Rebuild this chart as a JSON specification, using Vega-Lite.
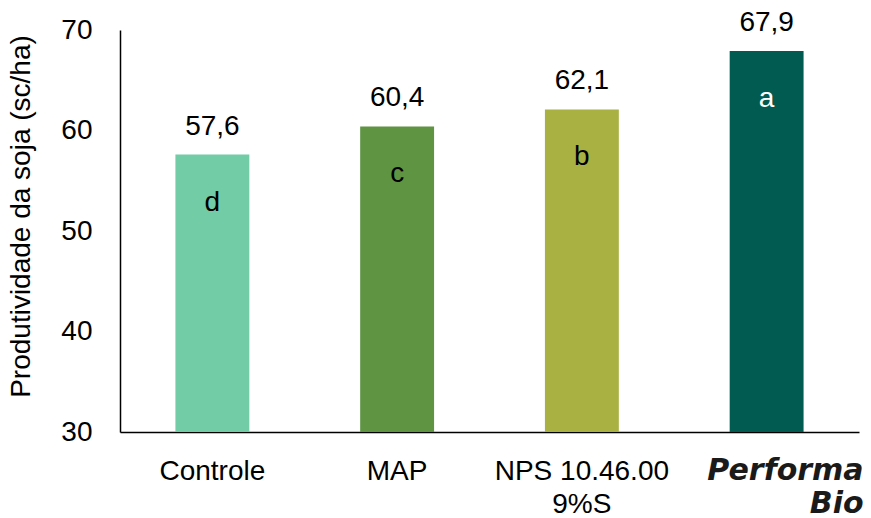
{
  "$schema": "https://vega.github.io/schema/vega-lite/v6.json",
  "width": 739,
  "height": 402,
  "autosize": "none",
  "padding": {"left": 120, "top": 30, "right": 12, "bottom": 86},
  "background": "white",
  "config": {
    "view": {"stroke": null},
    "font": "Liberation Sans",
    "locale": {"number": {"decimal": ",", "thousands": ".", "grouping": [3], "currency": ["", ""]}}
  },
  "data": {
    "values": [
      {"trat": "Controle", "prod": 57.6, "letra": "d"},
      {"trat": "MAP", "prod": 60.4, "letra": "c"},
      {"trat": "NPS 10.46.00 9%S", "prod": 62.1, "letra": "b"},
      {"trat": "PerformaBio", "prod": 67.9, "letra": "a"}
    ]
  },
  "encoding": {
    "x": {
      "field": "trat",
      "type": "nominal",
      "sort": null,
      "scale": {"paddingInner": 0.6, "paddingOuter": 0.3},
      "axis": {
        "title": null,
        "labelAngle": 0,
        "ticks": false,
        "domainColor": "black",
        "domainWidth": 1.5,
        "labelColor": {"condition": {"test": "datum.value == 'PerformaBio'", "value": "#1a1a1a"}, "value": "black"},
        "labelPadding": 47,
        "labelBaseline": "alphabetic",
        "labelLineHeight": 33,
        "labelExpr": "datum.value == 'NPS 10.46.00 9%S' ? ['NPS 10.46.00', '9%S'] : datum.value == 'PerformaBio' ? ['Performa', 'Bio'] : datum.value",
        "labelFontSize": {"condition": {"test": "datum.value == 'PerformaBio'", "value": 30}, "value": 28},
        "labelFont": {"condition": {"test": "datum.value == 'PerformaBio'", "value": "DejaVu Sans"}, "value": "Liberation Sans"},
        "labelAlign": {"condition": {"test": "datum.value == 'PerformaBio'", "value": "right"}, "value": "center"},
        "labelOffset": {"condition": {"test": "datum.value == 'PerformaBio'", "value": 97}, "value": 0},
        "labelFontWeight": {"condition": {"test": "datum.value == 'PerformaBio'", "value": "bold"}, "value": "normal"},
        "labelFontStyle": {"condition": {"test": "datum.value == 'PerformaBio'", "value": "italic"}, "value": "normal"}
      }
    }
  },
  "layer": [
    {
      "mark": {"type": "bar"},
      "encoding": {
        "y": {
          "field": "prod",
          "type": "quantitative",
          "scale": {"domain": [30, 70], "nice": false, "zero": false},
          "axis": {
            "title": "Produtividade da soja (sc/ha)",
            "titleFontSize": 28,
            "titleFontWeight": "normal",
            "titleColor": "black",
            "titlePadding": 25,
            "titleY": 186,
            "values": [30, 40, 50, 60, 70],
            "grid": false,
            "ticks": false,
            "domainColor": "black",
            "domainWidth": 1.5,
            "labelFontSize": 28,
            "labelColor": "black",
            "labelPadding": 28
          }
        },
        "y2": {"datum": 30},
        "color": {
          "field": "trat",
          "type": "nominal",
          "sort": null,
          "scale": {"range": ["#72CCA6", "#5E9442", "#A9B142", "#025B50"]},
          "legend": null
        }
      }
    },
    {
      "mark": {"type": "text", "fontSize": 28, "dy": -28, "color": "black"},
      "encoding": {
        "y": {"field": "prod", "type": "quantitative"},
        "text": {"field": "prod", "type": "quantitative", "format": ".1f"}
      }
    },
    {
      "mark": {"type": "text", "fontSize": 28, "dy": 48},
      "encoding": {
        "y": {"field": "prod", "type": "quantitative"},
        "text": {"field": "letra"},
        "color": {
          "condition": {"test": "datum.letra == 'a'", "value": "white"},
          "value": "black"
        }
      }
    }
  ]
}
